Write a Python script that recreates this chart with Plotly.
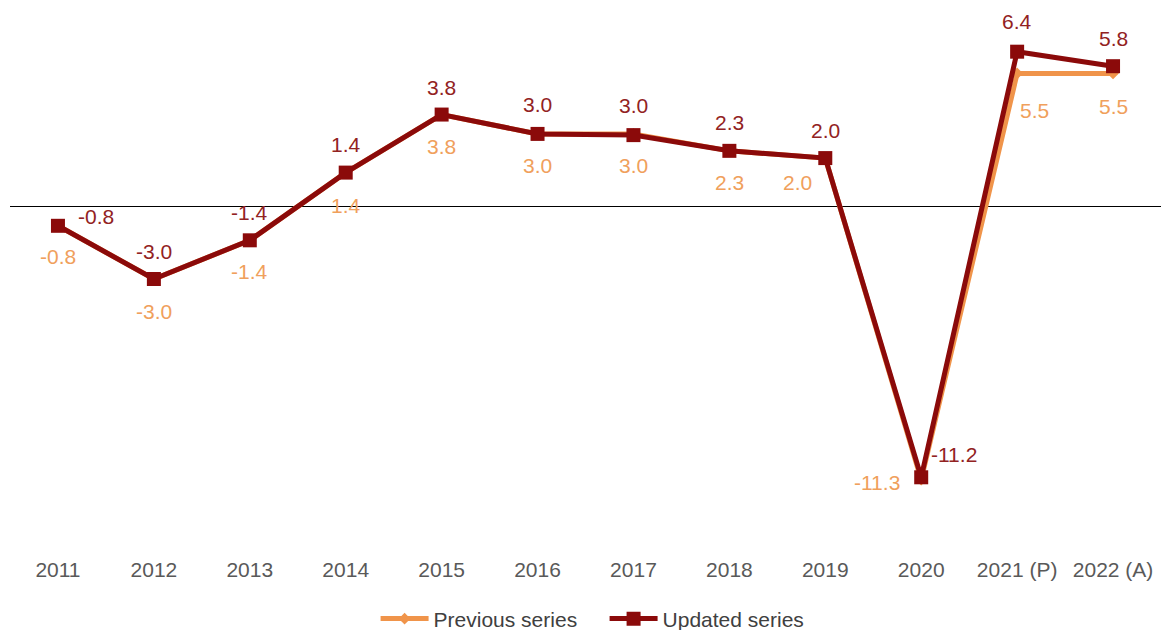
import plotly.graph_objects as go

years = ["2011", "2012", "2013", "2014", "2015", "2016", "2017", "2018", "2019", "2020", "2021 (P)", "2022 (A)"]
previous = [-0.8, -3.0, -1.4, 1.4, 3.8, 3.0, 3.0, 2.3, 2.0, -11.3, 5.5, 5.5]
updated = [-0.8, -3.0, -1.4, 1.4, 3.8, 3.0, 2.95, 2.3, 2.0, -11.2, 6.4, 5.8]
updated_labels = ["-0.8", "-3.0", "-1.4", "1.4", "3.8", "3.0", "3.0", "2.3", "2.0", "-11.2", "6.4", "5.8"]
previous_labels = ["-0.8", "-3.0", "-1.4", "1.4", "3.8", "3.0", "3.0", "2.3", "2.0", "-11.3", "5.5", "5.5"]

# label offsets (style, pixels)
upd_dx = [38, 0, 0, 0, 0, 0, 0, 0, 0, 33, 0, 0]
upd_dy = [9, 28, 28, 28, 27, 29, 30, 28, 28, 23, 30, 28]
prev_dx = [0, 0, 0, 0, 0, 0, 0, 0, -28, -44, 17, 0]
prev_dy = [-31, -32, -31, -33, -32, -32, -32, -32, -24, -3, -37, -33]

ORANGE = "#F0944A"
ORANGE_TXT = "#F0A05C"
RED = "#8B0A0A"
RED_TXT = "#922222"
FONT = "Liberation Sans, Arial, sans-serif"
FS = 21

fig = go.Figure()
fig.add_trace(go.Scatter(
    x=years, y=previous, name="Previous series", mode="lines+markers",
    line=dict(color=ORANGE, width=5),
    marker=dict(symbol="diamond", size=9, color=ORANGE),
    hoverinfo="skip",
))
fig.add_trace(go.Scatter(
    x=years, y=updated, name="Updated series", mode="lines+markers",
    line=dict(color=RED, width=5),
    marker=dict(symbol="square", size=14, color=RED),
    hoverinfo="skip",
))

for i, yr in enumerate(years):
    fig.add_annotation(x=i, y=previous[i], text=previous_labels[i], showarrow=False,
                       xshift=prev_dx[i], yshift=prev_dy[i],
                       font=dict(family=FONT, size=FS, color=ORANGE_TXT))
    fig.add_annotation(x=i, y=updated[i], text=updated_labels[i], showarrow=False,
                       xshift=upd_dx[i], yshift=upd_dy[i],
                       font=dict(family=FONT, size=FS, color=RED_TXT))

fig.update_layout(
    width=1161, height=630,
    margin=dict(l=10, r=0, t=13, b=85, autoexpand=False),
    paper_bgcolor="white", plot_bgcolor="white",
    font=dict(family=FONT, size=FS, color="#595959"),
    showlegend=True,
    legend=dict(orientation="h", x=0.3235, xanchor="left", xref="container",
                y=0.0175, yanchor="middle", yref="container",
                font=dict(family=FONT, size=FS, color="#404040"),
                itemwidth=48, traceorder="normal",
                entrywidth=166, entrywidthmode="pixels"),
    xaxis=dict(type="category", range=[-0.5, 11.5], showgrid=False, showline=False,
               zeroline=False, ticks="", ticklabelstandoff=10,
               tickfont=dict(family=FONT, size=FS, color="#595959"), fixedrange=True),
    yaxis=dict(range=[-14, 8], showgrid=False, showline=False, showticklabels=False,
               zeroline=True, zerolinecolor="#000000", zerolinewidth=1, ticks="",
               fixedrange=True),
)

fig.write_html("out.html")
